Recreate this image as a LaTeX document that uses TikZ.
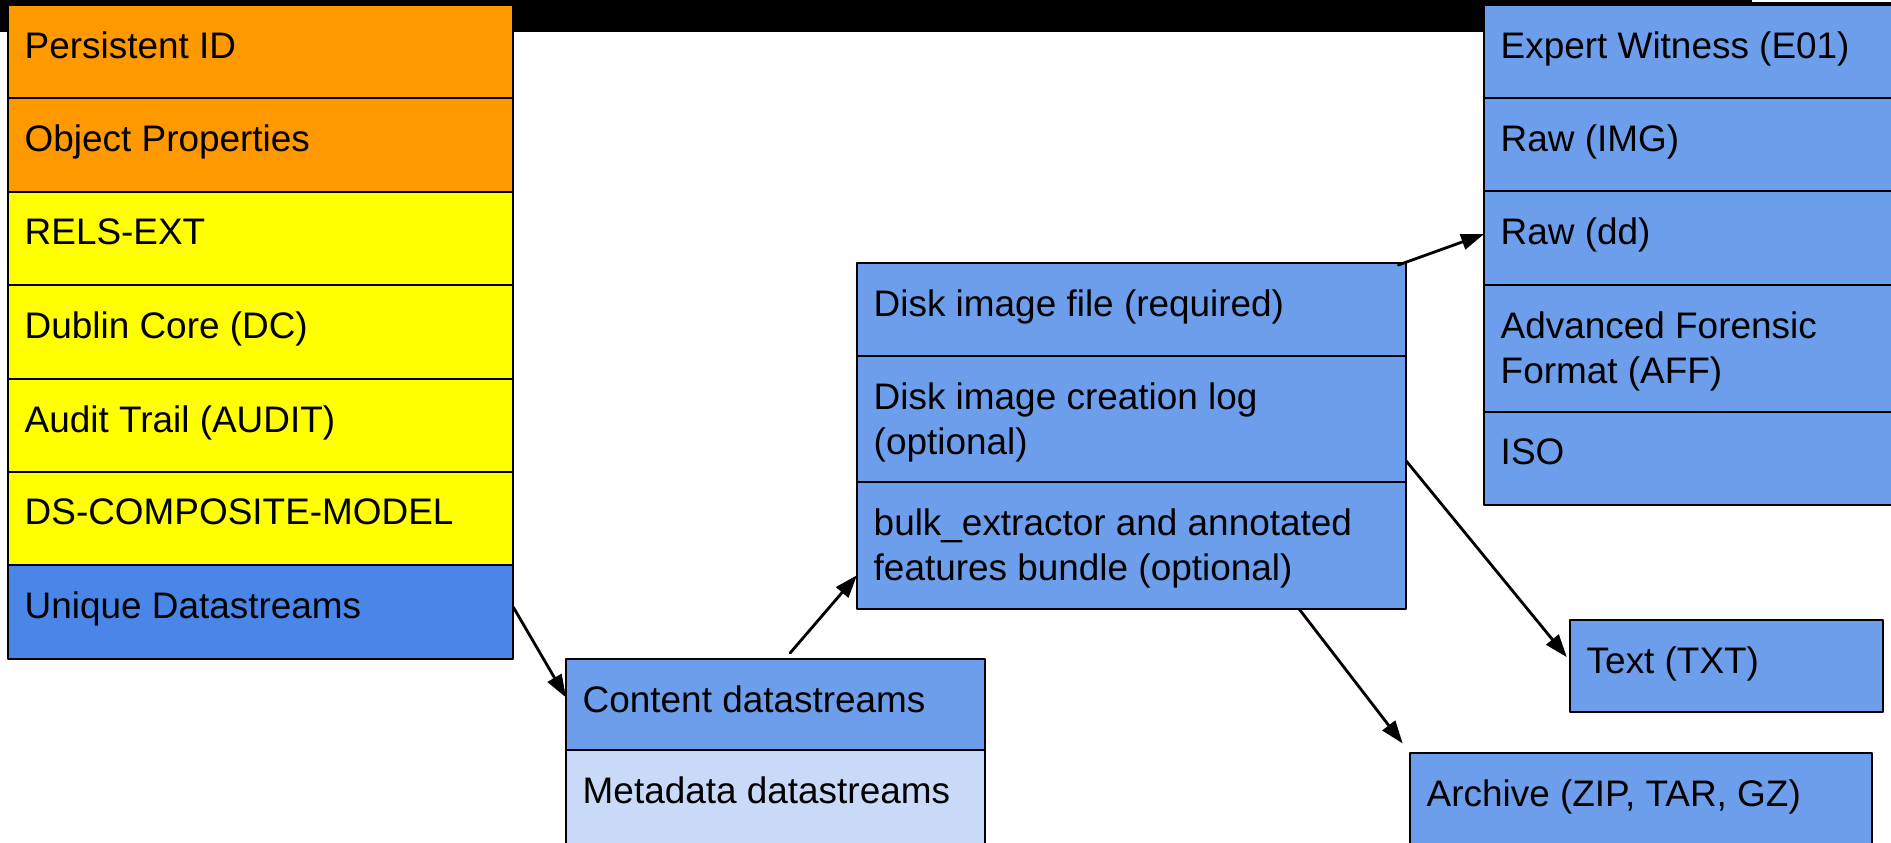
\documentclass[tikz,border=0pt]{standalone}
\usepackage{fontspec}
\setmainfont{Liberation Sans}
\usetikzlibrary{positioning}
\usetikzlibrary{arrows.meta}

\definecolor{orng}{HTML}{FF9900}
\definecolor{yllw}{HTML}{FFFF00}
\definecolor{dblue}{HTML}{4A86E8}
\definecolor{mblue}{HTML}{6D9EEB}
\definecolor{lblue}{HTML}{C9DAF8}

\begin{document}
\begin{tikzpicture}[line cap=round,line join=round,x=0.01cm,y=-0.01cm,
  row/.style={draw=black,line width=0.6pt,anchor=north west,inner sep=0pt,outer sep=0pt,minimum height=0.934cm},
  lbl/.style={anchor=north west,inner sep=0pt,align=left,xshift=0.16cm,yshift=-0.26cm,font=\fontsize{10.5}{12.8}\selectfont},
  arr/.style={-{Triangle[length=6.5pt,width=4.5pt]},line width=0.8pt,color=black}]
\useasboundingbox (0,0) rectangle (1891,843);
\clip (0,0) rectangle (1891,843);
\fill[color=black] (0,0) rectangle (1752,32);
\draw[line width=0.5pt] (1752,3) -- (1891,3);

% object stack
\foreach \nm/\tx/\cl [count=\i from 0] in
{   pid/Persistent ID/orng, objprops/Object Properties/orng,
    relsext/RELS-EXT/yllw, dc/Dublin Core (DC)/yllw,
    audit/Audit Trail (AUDIT)/yllw, dscm/DS-COMPOSITE-MODEL/yllw,
    unique/Unique Datastreams/dblue}
{
    \node[row,fill=\cl,minimum width=5.05cm,label={[lbl]north west:\tx}] (\nm) at (8,5+93.4*\i) {};
};

% datastreams
\node[row,fill=mblue,minimum width=4.19cm,minimum height=0.91cm,label={[lbl]north west:Content datastreams}] (content) at (566,659) {};
\node[row,fill=lblue,minimum width=4.19cm,minimum height=1.2cm,below=0pt of content,label={[lbl]north west:Metadata datastreams}] (metadata) {};

% disk image
\node[row,fill=mblue,minimum width=5.49cm,minimum height=0.93cm,label={[lbl]north west:Disk image file (required)}] (diskimg) at (857,263) {};
\node[row,fill=mblue,minimum width=5.49cm,minimum height=1.26cm,below=0pt of diskimg,label={[lbl]north west:Disk image creation log\\(optional)}] (disklog) {};
\node[row,fill=mblue,minimum width=5.49cm,minimum height=1.27cm,below=0pt of disklog,label={[lbl]north west:bulk\_extractor and annotated\\features bundle (optional)}] (bulk) {};

% formats
\node[row,fill=mblue,minimum width=4.2cm,minimum height=0.93cm,label={[lbl]north west:Expert Witness (E01)}] (e01) at (1484,5) {};
\node[row,fill=mblue,minimum width=4.2cm,minimum height=0.93cm,below=0pt of e01,label={[lbl]north west:Raw (IMG)}] (rawimg) {};
\node[row,fill=mblue,minimum width=4.2cm,minimum height=0.94cm,below=0pt of rawimg,label={[lbl]north west:Raw (dd)}] (rawdd) {};
\node[row,fill=mblue,minimum width=4.2cm,minimum height=1.27cm,below=0pt of rawdd,label={[lbl]north west:Advanced Forensic\\Format (AFF)}] (aff) {};
\node[row,fill=mblue,minimum width=4.2cm,minimum height=0.93cm,below=0pt of aff,label={[lbl]north west:ISO}] (iso) {};

\node[row,fill=mblue,minimum width=3.13cm,minimum height=0.92cm,label={[lbl]north west:Text (TXT)}] (txt) at (1570,620) {};
\node[row,fill=mblue,minimum width=4.62cm,minimum height=1.2cm,label={[lbl]north west:Archive (ZIP, TAR, GZ)}] (archive) at (1410,753) {};

\draw[arr] ([yshift=0.05cm]unique.east) -- ([yshift=0.07cm]content.west);
\draw[arr] ([xshift=0.145cm,yshift=0.06cm]content.north) -- ([yshift=-0.295cm]bulk.west);
\draw[arr] ([xshift=-0.08cm,yshift=-0.02cm]diskimg.north east) -- ([yshift=0.04cm]rawdd.west);
\draw[arr,shorten >=0.05cm] ([yshift=-0.42cm]disklog.east) -- ([yshift=0.05cm]txt.west);
\draw[arr,shorten >=0.12cm] ([xshift=1.675cm]bulk.south) -- (archive.north west);
\end{tikzpicture}
\end{document}
